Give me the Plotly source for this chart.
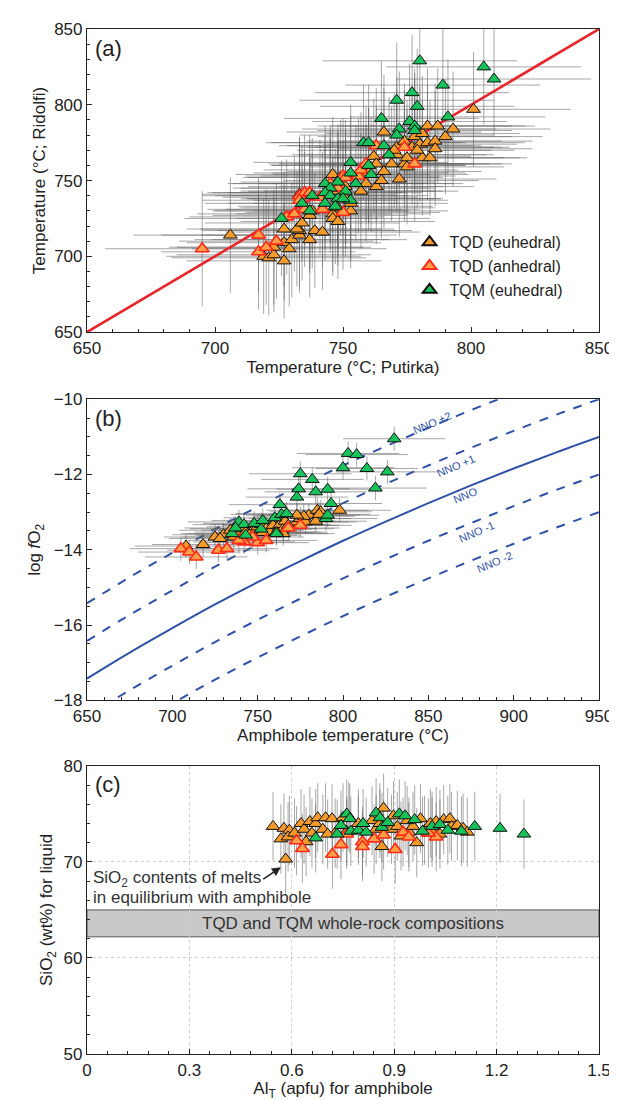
import plotly.graph_objects as go

# ---------------- Panel (a): Putirka vs Ridolfi temperature ----------------
a_eu_x = [706,719,721,723,727,723,727,729,730,733,733,737,739,742,727,732,734,737,738,733,
          746,746,748,753,746,748,751,757,759,760,762,763,766,763,765,772,766,769,771,771,
          774,774,775,777,778,780,781,781,783,783,786,786,784,787,790,793,801,779,775,770,
          760,749,753,751,748]
a_eu_y = [714,700,699,701,697,706,709,705,711,714,717,711,717,716,718,718,722,727,730,741,
          728,725,723,730,754,743,746,743,748,755,766,761,756,746,750,751,782,761,767,772,
          776,761,765,772,779,774,765,781,786,775,776,771,765,786,779,784,797,770,759,770,
          760,752,735,738,732]
a_an_x = [695,717,717,720,724,728,731,733,735,735,737,741,742,745,748,750,750,751,756,757,
          759,763,778,774,733]
a_an_y = [705,714,703,706,710,726,728,740,742,731,742,739,731,748,745,753,729,752,753,757,
          761,773,761,772,737]
a_tqm_x = [780,805,809,789,777,771,779,791,765,776,778,772,778,771,758,760,766,768,753,760,
           761,753,755,743,748,745,751,738,743,745,748,753,734,743,747,737,726,750]
a_tqm_y = [829,825,817,813,808,803,799,792,791,789,786,784,783,780,775,775,773,767,762,760,
           754,755,748,748,749,745,743,740,742,740,738,737,735,735,733,730,725,738]
a_err_x = 38
a_err_y = 38
a_one_to_one = [650, 850]

# ---------------- Panel (b): log fO2 vs amphibole temperature ----------------
b_eu_x = [708,718,725,730,728,734,739,740,743,747,750,752,755,757,759,763,765,766,768,773,
          775,778,780,784,785,787,786,798,777,765,761,745,736,773,753]
b_eu_y = [-13.9,-13.86,-13.66,-13.6,-13.7,-13.48,-13.57,-13.44,-13.53,-13.48,
          -13.39,-13.33,-13.44,-13.53,-13.35,-13.33,-13.44,-13.24,-13.35,-13.26,
          -13.17,-13.26,-13.08,-13.24,-12.95,-12.99,-13.06,-12.95,-13.11,-13.57,
          -13.53,-13.61,-13.66,-13.08,-13.54]
b_an_x = [705,710,714,727,732,742,750,755,768,775,739,747]
b_an_y = [-13.97,-14.06,-14.19,-14.01,-13.97,-13.79,-13.81,-13.75,-13.42,-13.35,-13.75,-13.66]
b_tqm_x = [830,803,808,800,814,826,775,782,819,774,784,791,773,793,763,
           739,742,748,753,760,764,767,761,743,735,790,791,752,737]
b_tqm_y = [-11.05,-11.44,-11.47,-11.82,-11.84,-11.93,-11.98,-12.13,-12.36,-12.38,-12.46,-12.39,-12.6,-12.77,-12.8,
           -13.26,-13.33,-13.3,-13.22,-13.15,-13.06,-13.04,-13.57,-13.61,-13.57,-13.17,-13.08,-13.45,-13.42]
b_err_x = 30
b_err_y = 0.32

# NNO buffer
nno_t = [650,675,700,725,750,775,800,825,850,875,900,925,950]
nno_logfo2 = [-17.42,-16.73,-16.08,-15.45,-14.86,-14.30,-13.76,-13.25,-12.76,-12.29,-11.84,-11.41,-11.00]
nno_offsets = [2, 1, 0, -1, -2]
nno_labels = ["NNO +2", "NNO +1", "NNO", "NNO -1", "NNO -2"]
nno_label_x = [852, 866, 872, 878, 889]
nno_label_y = [-10.62, -11.78, -12.55, -13.52, -14.32]

# ---------------- Panel (c): SiO2 liquid vs AlT ----------------
c_eu_x = [0.545,0.577,0.593,0.568,0.589,0.582,0.608,0.627,0.636,0.642,
          0.653,0.670,0.676,0.691,0.699,0.718,0.727,0.705,0.659,0.767,
          0.835,0.847,0.864,0.869,0.892,0.920,0.943,0.955,0.966,0.977,
          0.989,1.006,1.023,1.034,1.045,1.063,1.068,1.085,1.102,1.114,
          0.938,0.795,0.761,0.909,0.898,1.011,0.858,0.750]
c_eu_y = [73.7,73.5,73.3,72.4,72.6,70.3,73.0,74.0,73.4,72.1,
          74.2,74.0,74.6,73.4,74.6,74.5,73.0,72.9,73.0,74.7,
          74.3,73.4,71.6,75.6,73.4,72.7,73.1,73.7,72.0,74.5,
          73.3,74.0,74.2,72.9,74.4,74.5,73.7,73.8,73.5,73.1,
          74.3,74.0,73.2,73.7,74.8,73.1,74.0,74.6]
c_an_x = [0.614,0.631,0.719,0.744,0.807,0.807,0.841,0.869,0.903,0.926,0.943,1.023,0.761,1.000]
c_an_y = [72.2,71.4,70.8,71.8,72.1,71.6,72.4,72.8,71.3,73.1,72.6,72.6,72.9,73.0]
c_tqm_x = [0.670,0.761,0.770,0.744,0.733,0.773,0.795,0.809,0.818,0.847,0.858,0.864,
           0.881,0.915,0.932,0.960,0.983,1.011,1.034,1.057,1.097,1.136,1.21,1.28]
c_tqm_y = [72.5,75.0,74.5,73.8,72.9,73.2,73.3,74.0,73.1,75.1,74.6,73.6,
           74.1,75.0,74.8,74.4,73.2,73.7,73.9,73.3,73.2,73.7,73.5,72.9]
c_err_y = 3.6
whole_rock_range = [62.2, 65.0]

series_names = ["TQD (euhedral)", "TQD (anhedral)", "TQM (euhedral)"]

# ---------------- styles ----------------
FONT = "Liberation Sans, Arial, sans-serif"
ERR_COL = "rgba(95,95,95,0.55)"
styles = [
    dict(color="#F39A2B", line=dict(color="#111111", width=1)),
    dict(color="#FFA247", line=dict(color="#FF2A1A", width=1.6)),
    dict(color="#17C25A", line=dict(color="#111111", width=1)),
]
BLUE = "#2F52A8"
MS = 12
TXT = "#222"

fig = go.Figure()

def add_errors(xs, ys, xa, ya, ex, ey):
    for x, y in zip(xs, ys):
        fig.add_trace(go.Scatter(
            x=x, y=y, mode="markers", xaxis=xa, yaxis=ya,
            marker=dict(size=1, opacity=0), showlegend=False, hoverinfo="skip",
            error_x=dict(type="constant", value=ex if ex else 0, color=ERR_COL,
                         thickness=1, width=0, visible=bool(ex)),
            error_y=dict(type="constant", value=ey, color=ERR_COL, thickness=1, width=0),
        ))

def add_markers(xs, ys, xa, ya, showlegend):
    for i, (x, y) in enumerate(zip(xs, ys)):
        fig.add_trace(go.Scatter(
            x=x, y=y, mode="markers", xaxis=xa, yaxis=ya, name=series_names[i],
            marker=dict(symbol="triangle-up", size=MS, **styles[i]),
            showlegend=showlegend, legendgroup=series_names[i],
        ))

# Panel a
add_errors([a_eu_x, a_an_x, a_tqm_x], [a_eu_y, a_an_y, a_tqm_y], "x", "y", a_err_x, a_err_y)
fig.add_trace(go.Scatter(x=a_one_to_one, y=a_one_to_one, mode="lines", xaxis="x", yaxis="y",
                         line=dict(color="#E8262A", width=2.6), showlegend=False, hoverinfo="skip"))
add_markers([a_eu_x, a_an_x, a_tqm_x], [a_eu_y, a_an_y, a_tqm_y], "x", "y", True)

# Panel b buffers + data
for off in nno_offsets:
    fig.add_trace(go.Scatter(
        x=nno_t, y=[v + off for v in nno_logfo2], mode="lines", xaxis="x2", yaxis="y2",
        line=dict(color=BLUE, width=2, dash="solid" if off == 0 else "dash", shape="spline"),
        showlegend=False, hoverinfo="skip"))
add_errors([b_eu_x, b_an_x, b_tqm_x], [b_eu_y, b_an_y, b_tqm_y], "x2", "y2", b_err_x, b_err_y)
add_markers([b_eu_x, b_an_x, b_tqm_x], [b_eu_y, b_an_y, b_tqm_y], "x2", "y2", False)

# Panel c
add_errors([c_eu_x, c_an_x, c_tqm_x], [c_eu_y, c_an_y, c_tqm_y], "x3", "y3", None, c_err_y)
add_markers([c_eu_x, c_an_x, c_tqm_x], [c_eu_y, c_an_y, c_tqm_y], "x3", "y3", False)

# ---------------- axes ----------------
# plot area spans y = 19 .. 1046 px (height 1027)
dom_a = [0.7043, 1.0]
dom_b = [0.3450, 0.6388]
dom_c = [0.0, 0.2811]

def ax(**kw):
    base = dict(showline=True, linecolor=TXT, linewidth=1.2, mirror=True, ticks="inside",
                ticklen=5, tickcolor=TXT, showgrid=False, zeroline=False,
                tickfont=dict(size=17, color=TXT, family=FONT),
                title_font=dict(size=17, color=TXT, family=FONT))
    base.update(kw)
    return base

def minor(d):
    return dict(dtick=d, ticks="inside", ticklen=3, tickcolor=TXT)

fig.update_layout(
    xaxis=ax(domain=[0, 1], anchor="y", range=[650, 850], tickvals=[650, 700, 750, 800, 850],
             minor=minor(10), title=dict(text="Temperature (°C; Putirka)", standoff=2)),
    yaxis=ax(domain=dom_a, anchor="x", range=[650, 850], tickvals=[650, 700, 750, 800, 850],
             minor=minor(10), title=dict(text="Temperature (°C; Ridolfi)", standoff=4)),
    xaxis2=ax(domain=[0, 1], anchor="y2", range=[650, 950], tickvals=[650, 700, 750, 800, 850, 900, 950],
              minor=minor(10), title=dict(text="Amphibole temperature (°C)", standoff=2)),
    yaxis2=ax(domain=dom_b, anchor="x2", range=[-18, -10], tickvals=[-18, -16, -14, -12, -10],
              minor=minor(0.5), title=dict(text="log <i>f</i>O<sub>2</sub>", standoff=8)),
    xaxis3=ax(domain=[0, 1], anchor="y3", range=[0, 1.5], tickvals=[0, 0.3, 0.6, 0.9, 1.2, 1.5],
              ticktext=["0", "0.3", "0.6", "0.9", "1.2", "1.5"],
              showgrid=True, gridcolor="#cfcfcf", griddash="dot", gridwidth=1,
              minor=minor(0.06),
              title=dict(text="Al<sub>T</sub> (apfu) for amphibole", standoff=0,
                         font=dict(size=17, color=TXT, family=FONT))),
    yaxis3=ax(domain=dom_c, anchor="x3", range=[50, 80], tickvals=[50, 60, 70, 80],
              showgrid=True, gridcolor="#cfcfcf", griddash="dot", gridwidth=1,
              minor=minor(2), title=dict(text="SiO<sub>2</sub> (wt%) for liquid", standoff=6)),
)

# whole-rock band
fig.add_shape(type="rect", xref="x3", yref="y3", x0=0, x1=1.5,
              y0=whole_rock_range[0], y1=whole_rock_range[1],
              fillcolor="#c9c9c9", line=dict(color="#555", width=1), layer="below")

annotations = []
for lab, xa, ya in [("(a)", "x", "y"), ("(b)", "x2", "y2"), ("(c)", "x3", "y3")]:
    annotations.append(dict(text=lab, xref=xa + " domain", yref=ya + " domain", x=0.012, y=0.985,
                            xanchor="left", yanchor="top", showarrow=False,
                            font=dict(size=22, color=TXT, family=FONT)))
annotations += [
    dict(text="TQD and TQM whole-rock compositions", xref="x3", yref="y3",
         x=0.78, y=sum(whole_rock_range) / 2, showarrow=False,
         font=dict(size=17, color="#333", family=FONT)),
    dict(text="SiO<sub>2</sub> contents of melts", xref="x3", yref="y3",
         x=0.012, y=68.17, xanchor="left", yanchor="middle", showarrow=False,
         font=dict(size=17, color="#333", family=FONT)),
    dict(text="in equilibrium with amphibole", xref="x3", yref="y3",
         x=0.012, y=66.3, xanchor="left", yanchor="middle", showarrow=False,
         font=dict(size=17, color="#333", family=FONT)),
    dict(text="", xref="x3", yref="y3", x=0.568, y=69.45, ax=0.512, ay=68.1, axref="x3", ayref="y3",
         showarrow=True, arrowhead=2, arrowsize=1.2, arrowwidth=1.5, arrowcolor=TXT),
]
for lbl, lx, ly in zip(nno_labels, nno_label_x, nno_label_y):
    annotations.append(dict(text=lbl, xref="x2", yref="y2", x=lx, y=ly, showarrow=False,
                            textangle=-23, font=dict(size=11, color=BLUE, family=FONT)))

fig.update_layout(
    annotations=annotations,
    width=617, height=1100,
    margin=dict(l=79, r=18, t=19, b=54),
    paper_bgcolor="white", plot_bgcolor="white",
    font=dict(family=FONT, color=TXT),
    legend=dict(x=0.63, y=0.8085, xanchor="left", yanchor="top", bgcolor="rgba(0,0,0,0)",
                font=dict(size=16, color=TXT, family=FONT), tracegroupgap=0,
                itemwidth=30, itemsizing="constant"),
    showlegend=True,
)

fig.write_html("out.html")
